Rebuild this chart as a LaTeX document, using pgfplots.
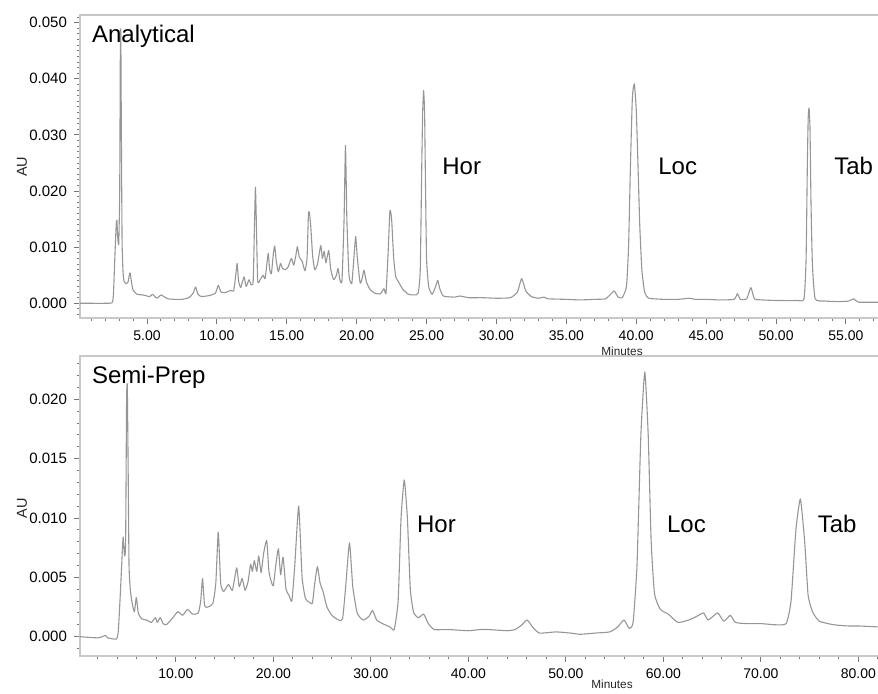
\documentclass[border=0pt]{standalone}
\usepackage{fontspec}
\setmainfont{Liberation Sans}
\usepackage{pgfplots}
\pgfplotsset{compat=1.18}
\definecolor{trace}{RGB}{150,150,150}
\definecolor{framec}{RGB}{200,200,200}
\definecolor{tickc}{RGB}{120,120,120}

\pgfplotsset{chrom/.style={
  scale only axis, width=401pt, anchor=north west,
  axis line style={framec, line width=0.8pt},
  tick pos=left, tick align=outside,
  major tick length=3pt, minor tick length=1.6pt,
  tick style={tickc, line width=0.45pt},
  scaled ticks=false,
  /pgf/number format/assume math mode=true,
  xticklabel style={font=\fontsize{7}{8}\selectfont, text=black, /pgf/number format/.cd, fixed, fixed zerofill, precision=2},
  yticklabel style={font=\fontsize{7.5}{9}\selectfont, text=black, /pgf/number format/.cd, fixed, fixed zerofill, precision=3},
}}

\begin{document}
\begin{tikzpicture}
% ---------------- Analytical ----------------
\begin{axis}[chrom, height=151.5pt, at={(40pt,-7.5pt)},
  xmin=0.21, xmax=57.58, ymin=-0.00262, ymax=0.05137,
  xtick={5,10,...,55}, minor xtick={1,2,...,57},
  ytick={0,0.01,0.02,0.03,0.04,0.05}, minor ytick={-0.002,-0.001,...,0.051}]
\addplot[trace, line width=0.55pt, line join=round, mark=none, smooth, tension=0.3] coordinates {
(0.2,0) (1.0,0) (2.0,0) (2.5,0.0001) (2.6,0.0015) (2.7,0.0080) (2.8,0.0140) (2.85,0.0148) (2.9,0.0120) (2.98,0.0105)
(3.05,0.0200) (3.1,0.0470) (3.13,0.0480) (3.17,0.0300) (3.22,0.0110) (3.28,0.0060) (3.35,0.0040) (3.5,0.0035) (3.65,0.0038)
(3.75,0.0052) (3.8,0.0054) (3.88,0.0040) (4.0,0.0024) (4.3,0.0016) (4.7,0.0015) (5.0,0.0013) (5.2,0.0012) (5.4,0.0016)
(5.6,0.0011) (5.75,0.0009) (6.0,0.0015) (6.2,0.0012) (6.5,0.0008) (7.0,0.0007) (7.5,0.0007) (8.0,0.0010) (8.3,0.0018)
(8.48,0.0029) (8.65,0.0016) (8.9,0.0012) (9.5,0.0014) (9.9,0.0018) (10.1,0.0032) (10.3,0.0020) (10.6,0.0019) (11.0,0.0023)
(11.2,0.0022) (11.35,0.0050) (11.45,0.0071) (11.55,0.0040) (11.7,0.0028) (11.85,0.0040) (11.95,0.0047) (12.1,0.0030)
(12.3,0.0042) (12.45,0.0033) (12.6,0.0040) (12.7,0.0150) (12.76,0.0207) (12.82,0.0150) (12.92,0.0040) (13.1,0.0042)
(13.3,0.0050) (13.45,0.0044) (13.6,0.0075) (13.68,0.0089) (13.78,0.0060) (13.9,0.0053) (14.05,0.0090) (14.14,0.0102)
(14.25,0.0075) (14.4,0.0056) (14.55,0.0071) (14.7,0.0062) (14.9,0.0060) (15.1,0.0065) (15.33,0.0080) (15.5,0.0068)
(15.65,0.0085) (15.76,0.0101) (15.9,0.0082) (16.1,0.0075) (16.3,0.0058) (16.45,0.0080) (16.55,0.0158) (16.62,0.0162)
(16.72,0.0136) (16.85,0.0085) (17.0,0.0060) (17.2,0.0070) (17.43,0.0103) (17.55,0.0080) (17.68,0.0093) (17.8,0.0072)
(18.0,0.0094) (18.15,0.0060) (18.35,0.0042) (18.55,0.0050) (18.67,0.0062) (18.8,0.0042) (18.95,0.0040) (19.1,0.0150)
(19.2,0.0281) (19.3,0.0150) (19.45,0.0050) (19.65,0.0035) (19.8,0.0080) (19.93,0.0119) (20.05,0.0080) (20.25,0.0036)
(20.4,0.0045) (20.52,0.0059) (20.7,0.0038) (20.95,0.0025) (21.3,0.0018) (21.7,0.0017) (21.95,0.0026) (22.1,0.0018)
(22.25,0.0090) (22.38,0.0165) (22.5,0.0150) (22.65,0.0080) (22.8,0.0047) (23.0,0.0038) (23.3,0.0025) (23.7,0.0016)
(24.1,0.0015) (24.4,0.0018) (24.55,0.0060) (24.66,0.0250) (24.72,0.0340) (24.79,0.0379) (24.86,0.0340) (24.92,0.0220) (25.0,0.0080) (25.15,0.0030)
(25.4,0.0016) (25.65,0.0030) (25.8,0.0041) (25.95,0.0026) (26.2,0.0013) (27.0,0.0011) (27.4,0.0013) (28.0,0.0010)
(29.0,0.0010) (30.0,0.0009) (31.0,0.0010) (31.5,0.0020) (31.8,0.0044) (32.1,0.0022) (32.5,0.0012) (33.0,0.0009)
(33.4,0.0011) (33.7,0.0008) (35.0,0.0007) (36.0,0.0006) (37.0,0.0007) (37.8,0.0008) (38.2,0.0017) (38.43,0.0022)
(38.7,0.0011) (39.0,0.0010) (39.3,0.0030) (39.45,0.0100) (39.58,0.0240) (39.72,0.0365) (39.86,0.0391) (40.0,0.0345) (40.12,0.0250) (40.25,0.0140)
(40.4,0.0060) (40.6,0.0020) (40.9,0.0009) (42.0,0.0007) (43.0,0.0007) (43.8,0.0009) (44.2,0.0007) (45.0,0.0007)
(46.0,0.0006) (47.0,0.0007) (47.24,0.0017) (47.45,0.0007) (47.9,0.0008) (48.2,0.0028) (48.45,0.0008) (49.0,0.0006)
(50.0,0.0005) (51.5,0.0005) (52.0,0.0008) (52.15,0.0080) (52.24,0.0250) (52.3,0.0330) (52.36,0.0348) (52.43,0.0310) (52.5,0.0180) (52.6,0.0070)
(52.8,0.0008) (53.5,0.0004) (54.5,0.0003) (55.2,0.0004) (55.57,0.0008) (55.9,0.0002) (57.6,0.0002)
};
\node[anchor=base west, inner sep=0, font=\fontsize{12}{14}\selectfont] at (rel axis cs:0.0146,0.909) {Analytical};
\node[anchor=base west, inner sep=0, font=\fontsize{12}{14}\selectfont] at (axis cs:26.1,0.02286) {Hor};
\node[anchor=base west, inner sep=0, font=\fontsize{12}{14}\selectfont] at (axis cs:41.55,0.02286) {Loc};
\node[anchor=base west, inner sep=0, font=\fontsize{12}{14}\selectfont] at (axis cs:54.14,0.02286) {Tab};
\end{axis}
% ---------------- Semi-Prep ----------------
\begin{axis}[chrom, height=150pt, at={(40pt,-178pt)},
  xmin=0.17, xmax=82.43, ymin=-0.00163, ymax=0.02365,
  xtick={10,20,...,80}, minor xtick={2,4,...,82},
  ytick={0,0.005,0.01,0.015,0.02}, minor ytick={-0.001,0,...,0.023}]
\addplot[trace, line width=0.55pt, line join=round, mark=none, smooth, tension=0.3] coordinates {
(0.15,0) (2.0,-0.0001) (2.8,0.0001) (3.0,-0.0001) (3.9,-0.0002) (4.1,0.0005) (4.3,0.0035) (4.5,0.0070) (4.6,0.0084)
(4.75,0.0068) (4.85,0.0080) (4.95,0.0200) (5.02,0.0212) (5.1,0.0150) (5.2,0.0060) (5.35,0.0038) (5.55,0.0027) (5.75,0.0021)
(5.95,0.0033) (6.15,0.0020) (6.5,0.0015) (7.0,0.0014) (7.5,0.0012) (7.9,0.0016) (8.1,0.0012) (8.4,0.0016) (8.7,0.0011)
(9.0,0.0010) (9.5,0.0014) (10.2,0.0021) (10.7,0.0018) (11.2,0.0023) (11.7,0.0019) (12.3,0.0020) (12.55,0.0030)
(12.74,0.0049) (12.95,0.0026) (13.3,0.0025) (13.8,0.0028) (14.1,0.0045) (14.35,0.0088) (14.6,0.0045) (14.9,0.0038)
(15.4,0.0044) (15.8,0.0039) (16.24,0.0058) (16.5,0.0042) (16.8,0.0049) (17.1,0.0039) (17.4,0.0046) (17.67,0.0061)
(17.85,0.0055) (18.05,0.0064) (18.3,0.0055) (18.5,0.0068) (18.75,0.0054) (19.0,0.0070) (19.32,0.0081) (19.55,0.0055)
(19.8,0.0046) (20.0,0.0043) (20.25,0.0060) (20.52,0.0074) (20.75,0.0052) (21.0,0.0067) (21.3,0.0040) (21.6,0.0035)
(21.9,0.0030) (22.2,0.0060) (22.6,0.0110) (22.95,0.0050) (23.3,0.0032) (23.7,0.0029) (24.0,0.0028) (24.25,0.0045)
(24.52,0.0059) (24.8,0.0045) (25.1,0.0038) (25.5,0.0025) (26.0,0.0018) (26.7,0.0014) (27.1,0.0015) (27.4,0.0040)
(27.81,0.0079) (28.15,0.0042) (28.6,0.0020) (29.2,0.0014) (29.8,0.0017) (30.18,0.0022) (30.6,0.0014) (31.2,0.0011)
(32.0,0.0008) (32.4,0.0006) (32.8,0.0030) (33.1,0.0100) (33.43,0.0132) (33.75,0.0100) (34.05,0.0040) (34.4,0.0020)
(34.9,0.0016) (35.42,0.0019) (35.9,0.0011) (36.5,0.0006) (38.0,0.0006) (40.0,0.0005) (41.2,0.0006) (42.0,0.0006)
(44.0,0.0005) (44.8,0.0006) (45.5,0.0010) (46.04,0.0014) (46.6,0.0008) (47.3,0.0003) (49.0,0.0004) (50.5,0.0003)
(51.5,0.0002) (53.0,0.0003) (54.5,0.0004) (55.3,0.0008) (55.97,0.0014) (56.5,0.0007) (56.9,0.0012) (57.3,0.0060)
(57.7,0.0170) (58.1,0.0223) (58.45,0.0170) (58.75,0.0081) (59.1,0.0036) (59.7,0.0023) (60.5,0.0019) (61.5,0.0012)
(62.6,0.0014) (63.4,0.0017) (64.13,0.0020) (64.6,0.0014) (65.57,0.0020) (66.2,0.0013) (66.87,0.0018) (67.4,0.0012)
(68.5,0.0011) (70.0,0.0011) (71.5,0.0010) (72.6,0.0011) (73.1,0.0030) (73.6,0.0090) (74.06,0.0116) (74.5,0.0080)
(74.85,0.0035) (75.3,0.0021) (76.0,0.0013) (77.5,0.0010) (79.0,0.0009) (80.0,0.0009) (82.5,0.0008)
};
\node[anchor=base west, inner sep=0, font=\fontsize{12}{14}\selectfont] at (rel axis cs:0.0146,0.909) {Semi-Prep};
\node[anchor=base west, inner sep=0, font=\fontsize{12}{14}\selectfont] at (axis cs:34.71,0.00876) {Hor};
\node[anchor=base west, inner sep=0, font=\fontsize{12}{14}\selectfont] at (axis cs:60.35,0.00876) {Loc};
\node[anchor=base west, inner sep=0, font=\fontsize{12}{14}\selectfont] at (axis cs:75.8,0.00876) {Tab};
\end{axis}
% axis titles
\node[rotate=90, font=\fontsize{7.2}{8}\selectfont, text=black!85] at (11pt,-83.5pt) {AU};
\node[rotate=90, font=\fontsize{7.2}{8}\selectfont, text=black!85] at (11pt,-254pt) {AU};
\node[font=\fontsize{5.9}{7}\selectfont, text=black!85] at (311pt,-175.5pt) {Minutes};
\node[font=\fontsize{5.9}{7}\selectfont, text=black!85] at (306pt,-342pt) {Minutes};
\pgfresetboundingbox
\useasboundingbox (0pt,0pt) rectangle (439pt,-347pt);
\end{tikzpicture}
\end{document}
